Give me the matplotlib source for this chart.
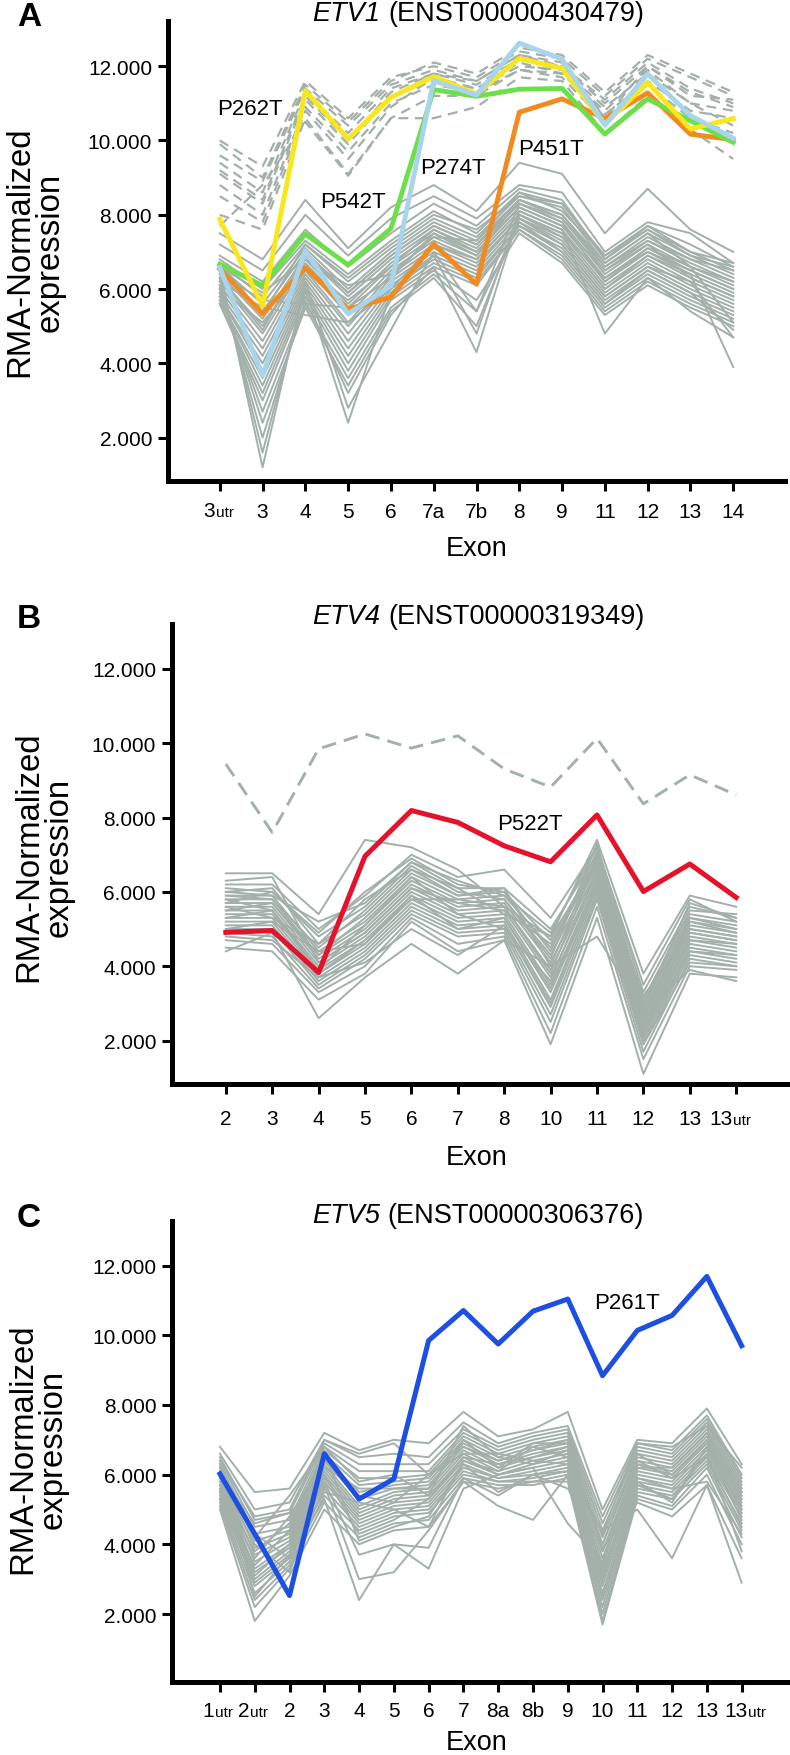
import matplotlib
matplotlib.use('Agg')
import matplotlib.pyplot as plt

plt.rcParams['font.family'] = ['Liberation Sans', 'DejaVu Sans']

W, H = 790, 1756
GRAY = '#a3b0aa'

# ---------------- Panel A : ETV1 ----------------
exons_a = ['3utr', '3', '4', '5', '6', '7a', '7b', '8', '9', '11', '12', '13', '14']
a_gray = [
    [7.5, 6.8, 8.4, 7.1, 8.2, 8.8, 8.1, 9.4, 9.1, 7.5, 8.7, 7.6, 7.0],
    [7.2, 6.5, 8.0, 6.9, 7.9, 8.5, 7.9, 8.8, 8.6, 7.0, 7.8, 7.5, 6.7],
    [6.9, 6.2, 7.6, 6.6, 7.5, 8.3, 7.7, 8.7, 8.4, 6.8, 7.7, 7.2, 6.6],
    [6.8, 6.0, 7.3, 6.4, 7.3, 8.1, 7.5, 8.6, 8.3, 6.9, 7.6, 7.0, 6.5],
    [6.7, 5.8, 7.2, 6.2, 7.1, 7.9, 7.4, 8.5, 8.2, 6.7, 7.5, 6.9, 6.4],
    [6.6, 5.6, 7.1, 6.0, 7.0, 7.8, 7.3, 8.4, 8.0, 6.6, 7.4, 6.8, 6.3],
    [6.5, 5.4, 7.0, 5.9, 6.9, 7.7, 7.2, 8.3, 7.9, 6.5, 7.3, 6.7, 6.2],
    [6.4, 5.2, 6.9, 5.8, 6.8, 7.6, 7.1, 8.3, 7.8, 6.4, 7.2, 6.6, 6.1],
    [6.3, 5.0, 6.8, 5.6, 6.7, 7.5, 7.0, 8.2, 7.7, 6.3, 7.1, 6.5, 6.0],
    [6.2, 4.8, 6.7, 5.5, 6.6, 7.4, 6.9, 8.1, 7.6, 6.2, 7.0, 6.4, 5.9],
    [6.1, 4.6, 6.6, 5.3, 6.5, 7.3, 6.8, 8.0, 7.5, 6.1, 6.9, 6.3, 5.8],
    [6.0, 4.4, 6.5, 5.1, 6.4, 7.2, 6.7, 7.9, 7.4, 6.0, 6.8, 6.2, 5.7],
    [5.9, 4.2, 6.4, 5.0, 6.3, 7.1, 6.6, 7.9, 7.3, 5.9, 6.7, 6.1, 5.6],
    [5.8, 4.0, 6.3, 4.8, 6.2, 7.0, 6.5, 7.8, 7.2, 5.8, 6.6, 6.0, 5.5],
    [5.8, 3.8, 6.2, 4.6, 6.1, 6.9, 6.4, 7.7, 7.1, 5.7, 6.5, 5.9, 5.4],
    [5.7, 3.6, 6.1, 4.4, 6.0, 6.8, 6.3, 7.7, 7.0, 5.6, 6.4, 5.8, 5.3],
    [5.7, 3.4, 6.0, 4.2, 5.9, 6.7, 6.2, 7.6, 6.9, 5.5, 6.3, 5.7, 5.2],
    [5.6, 3.2, 5.9, 4.0, 5.8, 6.6, 6.1, 7.6, 6.8, 5.4, 6.2, 5.6, 5.1],
    [5.6, 3.0, 5.8, 3.8, 5.7, 6.5, 5.7, 7.5, 6.7, 5.3, 6.1, 5.5, 5.0],
    [5.9, 2.7, 5.6, 3.6, 5.5, 6.4, 5.4, 7.8, 7.0, 5.6, 6.5, 5.9, 4.9],
    [6.0, 2.4, 5.5, 3.4, 5.4, 6.3, 5.0, 7.9, 7.2, 5.8, 6.6, 6.2, 4.7],
    [6.1, 2.0, 5.7, 3.2, 5.3, 6.6, 4.3, 8.0, 7.4, 6.0, 6.9, 6.4, 3.9],
    [6.3, 1.6, 6.0, 2.4, 5.9, 6.9, 4.8, 8.1, 7.6, 4.8, 6.3, 5.4, 4.7],
    [6.5, 1.2, 6.2, 2.8, 4.9, 7.0, 5.4, 8.3, 7.8, 6.2, 7.1, 6.6, 5.1],
    [6.2, 5.5, 5.3, 5.1, 6.0, 7.2, 6.8, 8.0, 7.5, 6.3, 7.0, 6.5, 6.0],
    [6.4, 5.7, 5.6, 5.5, 6.3, 7.5, 6.9, 8.4, 7.9, 6.6, 7.3, 6.8, 6.5],
    [6.6, 5.9, 6.8, 6.1, 6.4, 7.4, 7.3, 8.6, 8.1, 6.9, 7.7, 7.0, 6.7],
    [6.0, 5.1, 6.5, 5.7, 6.6, 7.6, 7.0, 8.2, 7.7, 6.5, 7.2, 6.3, 5.8],
    [6.3, 4.9, 6.9, 5.9, 6.9, 7.7, 7.2, 8.4, 8.0, 6.7, 7.5, 6.6, 6.2],
    [6.7, 5.3, 7.2, 6.3, 7.2, 8.0, 7.6, 8.5, 8.3, 6.8, 7.6, 6.9, 6.6],
]
a_dashed = [
    [10.0, 9.3, 11.6, 10.6, 11.7, 12.0, 11.7, 12.4, 12.2, 11.2, 12.2, 11.7, 11.2],
    [9.6, 8.9, 11.4, 10.4, 11.5, 11.9, 11.6, 12.3, 12.0, 11.1, 12.1, 11.4, 11.0],
    [9.4, 8.6, 11.3, 10.2, 11.4, 11.8, 11.5, 12.2, 12.0, 11.0, 12.0, 11.2, 11.1],
    [9.1, 8.3, 11.1, 9.9, 11.2, 11.6, 11.4, 12.0, 11.9, 10.9, 11.8, 11.0, 10.8],
    [8.8, 8.0, 10.9, 9.7, 11.0, 11.5, 11.3, 11.9, 11.8, 10.7, 11.6, 10.8, 10.6],
    [8.5, 7.8, 10.8, 9.5, 10.9, 11.7, 11.4, 12.1, 11.8, 10.8, 11.9, 11.0, 10.4],
    [8.0, 7.6, 10.6, 9.1, 10.6, 11.2, 11.2, 11.9, 11.7, 10.5, 11.5, 10.6, 10.2],
    [7.7, 8.8, 10.5, 9.05, 10.6, 10.6, 10.9, 11.7, 11.6, 10.2, 11.2, 10.3, 9.5],
    [9.9, 9.0, 11.5, 10.5, 11.6, 12.1, 11.8, 12.5, 12.3, 11.3, 12.3, 11.8, 11.3],
    [9.2, 8.4, 11.2, 10.0, 11.3, 11.8, 11.6, 12.3, 12.1, 10.6, 12.0, 11.3, 10.9],
]
a_orange = [6.54, 5.33, 6.58, 5.46, 5.78, 7.21, 6.13, 10.76, 11.12, 10.59, 11.28, 10.17, 10.02]
a_green = [6.67, 6.09, 7.48, 6.65, 7.63, 11.37, 11.19, 11.38, 11.40, 10.17, 11.12, 10.53, 9.95]
a_yellow = [7.88, 5.55, 11.34, 10.04, 11.16, 11.72, 11.25, 12.21, 11.94, 10.44, 11.56, 10.31, 10.59]
a_lightblue = [6.58, 3.67, 7.03, 5.33, 6.09, 11.61, 11.22, 12.62, 12.19, 10.41, 11.79, 10.67, 10.06]
a_labels = ['P262T', 'P542T', 'P274T', 'P451T']
a_label_x = [0.71, 3.12, 5.44, 7.75]
a_label_y = [10.85, 8.35, 9.28, 9.79]

# ---------------- Panel B : ETV4 ----------------
exons_b = ['2', '3', '4', '5', '6', '7', '8', '10', '11', '12', '13', '13utr']
b_gray = [
    [6.5, 6.5, 5.4, 7.4, 7.2, 6.6, 5.6, 4.8, 7.4, 3.8, 5.9, 5.6],
    [6.2, 6.2, 5.0, 5.9, 7.0, 6.4, 6.6, 5.3, 7.2, 3.3, 5.6, 5.3],
    [6.1, 6.0, 4.8, 5.6, 6.8, 6.1, 6.1, 5.0, 7.0, 3.0, 5.4, 5.2],
    [6.0, 6.1, 4.6, 5.4, 6.6, 5.9, 6.0, 4.7, 6.9, 2.9, 5.3, 5.1],
    [5.9, 5.9, 4.4, 5.2, 6.4, 5.8, 5.9, 4.5, 6.8, 2.8, 5.2, 5.0],
    [5.8, 5.8, 4.3, 5.1, 6.3, 5.7, 5.8, 4.3, 6.7, 2.7, 5.1, 4.9],
    [5.7, 5.7, 4.2, 5.0, 6.2, 5.6, 5.7, 4.1, 6.6, 2.6, 5.0, 4.8],
    [5.6, 5.6, 4.1, 4.9, 6.1, 5.5, 5.6, 3.9, 6.5, 2.5, 4.9, 4.7],
    [5.5, 5.5, 4.0, 4.8, 6.0, 5.4, 5.5, 3.7, 6.4, 2.4, 4.8, 4.6],
    [5.4, 5.4, 3.9, 4.7, 5.9, 5.3, 5.4, 3.5, 6.3, 2.3, 4.7, 4.5],
    [5.3, 5.3, 3.8, 4.6, 5.8, 5.2, 5.3, 3.3, 6.2, 2.2, 4.6, 4.4],
    [5.2, 5.2, 3.7, 4.5, 5.7, 5.1, 5.2, 3.1, 6.1, 2.1, 4.5, 4.3],
    [5.1, 5.1, 3.6, 4.4, 5.6, 5.0, 5.1, 2.9, 6.0, 2.0, 4.4, 4.2],
    [5.0, 5.0, 3.5, 4.3, 5.5, 4.9, 5.0, 2.7, 5.9, 1.9, 4.3, 4.1],
    [4.9, 4.8, 3.4, 4.2, 5.4, 4.8, 4.9, 2.5, 5.8, 1.7, 4.2, 4.0],
    [4.7, 4.6, 3.3, 4.0, 5.3, 4.6, 4.8, 2.2, 5.6, 1.5, 4.0, 3.9],
    [4.5, 4.4, 3.1, 3.8, 5.2, 4.4, 4.7, 1.9, 5.3, 1.1, 3.8, 3.7],
    [4.4, 4.9, 2.6, 3.7, 4.6, 3.8, 4.7, 4.0, 4.8, 2.8, 3.9, 3.6],
    [5.7, 6.0, 4.9, 6.0, 6.9, 6.2, 6.0, 4.4, 7.1, 3.1, 5.5, 5.4],
    [5.9, 5.8, 4.5, 5.5, 6.7, 6.0, 5.8, 4.2, 7.3, 2.9, 5.7, 5.3],
    [5.5, 5.7, 4.3, 5.3, 6.5, 5.9, 6.1, 4.0, 7.0, 2.6, 5.3, 5.0],
    [6.3, 6.4, 4.1, 4.9, 6.1, 5.7, 5.5, 4.6, 6.8, 2.4, 5.0, 4.8],
    [5.3, 5.5, 3.9, 5.1, 6.4, 5.4, 5.0, 3.6, 6.6, 2.3, 4.7, 4.6],
    [5.0, 5.2, 4.4, 4.6, 5.9, 5.0, 5.3, 3.4, 6.3, 2.2, 4.4, 4.3],
    [4.8, 4.7, 3.7, 4.1, 5.0, 4.3, 5.1, 3.0, 6.2, 1.9, 4.1, 4.0],
    [6.0, 5.9, 5.2, 5.7, 6.8, 6.3, 5.9, 4.9, 7.2, 3.5, 5.8, 5.2],
    [5.8, 5.5, 3.8, 4.7, 5.8, 5.8, 5.6, 3.8, 6.9, 2.7, 5.2, 4.9],
    [5.6, 5.3, 4.6, 5.8, 6.6, 6.1, 5.4, 4.8, 6.7, 3.2, 4.9, 4.7],
]
b_dashed = [9.44, 7.60, 9.85, 10.25, 9.87, 10.2, 9.31, 8.82, 10.13, 8.37, 9.15, 8.61]
b_red = [4.91, 4.96, 3.83, 6.96, 8.19, 7.87, 7.24, 6.81, 8.07, 6.01, 6.75, 5.85]
b_labels = ['P522T']
b_label_x = [6.56]
b_label_y = [7.85]

# ---------------- Panel C : ETV5 ----------------
exons_c = ['1utr', '2utr', '2', '3', '4', '5', '6', '7', '8a', '8b', '9', '10', '11', '12', '13', '13utr']
c_gray = [
    [6.8, 5.5, 5.6, 7.2, 6.7, 7.0, 6.9, 7.8, 7.1, 7.3, 7.8, 5.0, 7.0, 6.9, 7.9, 6.3],
    [6.6, 5.0, 5.2, 7.0, 6.5, 6.6, 6.5, 7.5, 6.9, 7.2, 7.4, 4.8, 6.9, 6.7, 7.7, 6.0],
    [6.5, 4.7, 4.9, 6.9, 6.3, 6.3, 6.3, 7.3, 6.8, 7.1, 7.3, 4.6, 6.8, 6.6, 7.6, 5.9],
    [6.4, 4.5, 4.7, 6.8, 6.1, 6.1, 6.1, 7.2, 6.7, 7.0, 7.2, 4.4, 6.7, 6.5, 7.5, 5.8],
    [6.3, 4.3, 4.5, 6.7, 5.9, 5.9, 6.0, 7.1, 6.6, 6.9, 7.1, 4.2, 6.6, 6.4, 7.4, 5.7],
    [6.2, 4.1, 4.4, 6.6, 5.7, 5.8, 5.9, 7.0, 6.5, 6.8, 7.0, 4.0, 6.5, 6.3, 7.3, 5.6],
    [6.1, 3.9, 4.3, 6.5, 5.5, 5.7, 5.8, 6.9, 6.4, 6.7, 6.9, 3.8, 6.4, 6.2, 7.2, 5.5],
    [6.0, 3.7, 4.2, 6.4, 5.3, 5.6, 5.7, 6.8, 6.3, 6.6, 6.8, 3.6, 6.3, 6.1, 7.1, 5.4],
    [5.9, 3.5, 4.1, 6.3, 5.1, 5.5, 5.6, 6.7, 6.2, 6.5, 6.7, 3.4, 6.2, 6.0, 7.0, 5.3],
    [5.8, 3.3, 4.0, 6.2, 5.0, 5.4, 5.5, 6.6, 6.1, 6.4, 6.6, 3.2, 6.1, 5.9, 6.9, 5.2],
    [5.7, 3.2, 3.9, 6.1, 4.9, 5.3, 5.4, 6.5, 6.0, 6.3, 6.5, 3.0, 6.0, 5.8, 6.8, 5.1],
    [5.6, 3.0, 3.8, 6.0, 4.8, 5.2, 5.3, 6.4, 6.0, 6.2, 6.4, 2.8, 5.9, 5.7, 6.7, 5.0],
    [5.5, 2.9, 3.7, 5.9, 4.7, 5.1, 5.2, 6.3, 5.9, 6.1, 6.3, 2.6, 5.8, 5.6, 6.6, 4.9],
    [5.4, 2.8, 3.6, 5.8, 4.6, 5.0, 5.1, 6.2, 5.9, 6.0, 6.2, 2.4, 5.7, 5.5, 6.5, 4.8],
    [5.3, 2.6, 3.5, 5.6, 4.5, 4.9, 5.0, 6.1, 5.8, 5.9, 6.1, 2.2, 5.6, 5.4, 6.4, 4.6],
    [5.2, 2.4, 3.4, 5.4, 4.4, 4.8, 4.9, 6.0, 5.8, 5.8, 6.0, 2.0, 5.5, 5.3, 6.3, 4.4],
    [5.1, 2.2, 3.3, 5.2, 4.2, 4.6, 4.7, 5.9, 5.7, 5.7, 5.9, 1.8, 5.4, 5.1, 6.2, 4.2],
    [5.0, 1.8, 3.1, 5.0, 4.0, 4.4, 4.5, 5.8, 5.6, 5.8, 5.8, 1.7, 5.3, 5.0, 6.0, 4.0],
    [6.2, 4.3, 3.6, 5.3, 2.4, 4.0, 3.9, 5.9, 5.4, 6.0, 5.6, 3.9, 5.2, 4.8, 5.7, 3.6],
    [5.9, 4.0, 3.2, 5.7, 3.0, 3.2, 4.4, 5.8, 5.1, 4.7, 6.0, 4.4, 5.0, 3.6, 5.7, 2.9],
    [6.0, 4.6, 4.9, 5.8, 3.7, 4.0, 3.3, 5.6, 6.0, 6.2, 4.6, 3.5, 6.4, 5.9, 6.5, 4.5],
    [5.7, 3.8, 4.6, 6.6, 4.1, 4.5, 4.8, 6.3, 5.5, 6.0, 6.1, 3.3, 5.8, 5.2, 6.8, 4.7],
    [6.4, 4.8, 5.0, 7.0, 6.6, 6.9, 6.0, 6.6, 6.6, 6.4, 6.3, 4.3, 6.9, 6.8, 7.4, 6.2],
    [5.3, 3.4, 4.4, 6.2, 5.6, 5.6, 5.6, 7.0, 6.2, 6.9, 6.9, 2.9, 6.3, 6.0, 7.0, 5.3],
    [6.3, 2.5, 3.7, 5.5, 5.2, 5.0, 4.5, 6.4, 6.1, 6.8, 6.5, 2.5, 5.7, 5.3, 6.6, 3.8],
    [5.6, 3.6, 4.8, 6.4, 5.4, 5.2, 6.0, 6.8, 6.4, 6.7, 7.0, 3.8, 6.2, 6.2, 7.2, 5.5],
    [6.1, 4.2, 5.4, 6.8, 5.8, 6.0, 5.4, 7.4, 6.5, 6.3, 6.7, 4.0, 6.6, 6.0, 6.9, 5.0],
    [5.5, 3.1, 4.0, 6.0, 4.3, 4.7, 5.3, 6.5, 6.3, 6.5, 6.8, 3.1, 5.9, 5.6, 5.8, 4.3],
]
c_blue = [6.02, 4.3, 2.53, 6.60, 5.30, 5.88, 9.85, 10.71, 9.75, 10.69, 11.04, 8.84, 10.14, 10.57, 11.69, 9.70]
c_labels = ['P261T']
c_label_x = [11.7]
c_label_y = [10.95]

ytick_vals = [2, 4, 6, 8, 10, 12]
ytick_labels = ['2.000', '4.000', '6.000', '8.000', '10.000', '12.000']

fig = plt.figure(figsize=(W / 100, H / 100), dpi=100)
renderer = fig.canvas.get_renderer()


def make_axes(left, top, right, bottom, xlim, ylim, cats, xpad, utr_split):
    ax = fig.add_axes([left / W, 1 - bottom / H, (right - left) / W, (bottom - top) / H])
    ax.set_xlim(*xlim)
    ax.set_ylim(*ylim)
    for s in ('top', 'right'):
        ax.spines[s].set_visible(False)
    for s in ('left', 'bottom'):
        ax.spines[s].set_linewidth(3.6)
        ax.spines[s].set_capstyle('projecting')
    ax.set_xticks(range(len(cats)))
    ax.set_xticklabels(['' if c.endswith('utr') else c for c in cats], fontsize=15)
    ax.set_yticks(ytick_vals)
    ax.set_yticklabels(ytick_labels, fontsize=15)
    ax.tick_params(axis='both', direction='out', length=7, width=2.2)
    ax.tick_params(axis='x', pad=xpad)
    ax.tick_params(axis='y', pad=4.5)
    base = -(7 + xpad + 10.74)
    for i, c in enumerate(cats):
        if c.endswith('utr'):
            num = c[:-3]
            sp = utr_split[c] * 0.72
            ax.annotate(num, xy=(i, 0), xycoords=('data', 'axes fraction'),
                        xytext=(sp, base), textcoords='offset points',
                        ha='right', va='baseline', fontsize=15, annotation_clip=False)
            ax.annotate('utr', xy=(i, 0), xycoords=('data', 'axes fraction'),
                        xytext=(sp + 0.5, base), textcoords='offset points',
                        ha='left', va='baseline', fontsize=11, annotation_clip=False)
    return ax


def panel_text(letter, ly, title_it, title_rest, ty, ylab_x, ylab_y, exon_y):
    fig.text(29 / W, 1 - ly / H, letter, fontsize=24, fontweight='bold', ha='center', va='center')
    t1 = fig.text(0, 1 - ty / H, title_it, fontsize=19.5, fontstyle='italic', ha='left', va='center')
    t2 = fig.text(0, 1 - ty / H, title_rest, fontsize=19.5, ha='left', va='center')
    w1 = t1.get_window_extent(renderer).width
    w2 = t2.get_window_extent(renderer).width
    gap = 8
    x0 = 478 - (w1 + gap + w2) / 2
    t1.set_x(x0 / W)
    t2.set_x((x0 + w1 + gap) / W)
    fig.text(ylab_x / W, 1 - ylab_y / H, 'RMA-Normalized\nexpression', rotation=90,
             fontsize=23.7, ha='center', va='center', multialignment='center', linespacing=0.95)
    fig.text(477 / W, 1 - exon_y / H, 'Exon', fontsize=19.5, ha='center', va='center')


GLW = 1.4

# Panel A
axA = make_axes(168, 21.5, 785, 481.7, (-1.21, 13.21), (0.84, 13.23), exons_a, 8, {'3utr': -4.5})
xa = list(range(len(exons_a)))
for row in a_gray:
    axA.plot(xa, row, color=GRAY, lw=GLW, zorder=1)
for row in a_dashed:
    axA.plot(xa, row, color=GRAY, lw=1.6, ls=(0, (4.5, 3)), zorder=2)
axA.plot(xa, a_orange, color='#f28b1d', lw=3.5, zorder=3)
axA.plot(xa, a_green, color='#6ddf4b', lw=3.5, zorder=3)
axA.plot(xa, a_yellow, color='#f8e71a', lw=3.5, zorder=4)
axA.plot(xa, a_lightblue, color='#a8d5ec', lw=3.5, zorder=5)
for t, x, y in zip(a_labels, a_label_x, a_label_y):
    axA.text(x, y, t, fontsize=16, ha='center', va='center', zorder=6)
panel_text('A', 17.5, 'ETV1', '(ENST00000430479)', 14.4, 35, 252, 549)

# Panel B
axB = make_axes(172, 624.6, 790, 1085, (-1.16, 12.16), (0.83, 13.22), exons_b, 11, {'13utr': -4})
xb = list(range(len(exons_b)))
for row in b_gray:
    axB.plot(xb, row, color=GRAY, lw=GLW, zorder=1)
axB.plot(xb, b_dashed, color=GRAY, lw=2.1, ls=(0, (5, 2.8)), zorder=2)
axB.plot(xb, b_red, color='#e4122a', lw=3.6, zorder=4)
for t, x, y in zip(b_labels, b_label_x, b_label_y):
    axB.text(x, y, t, fontsize=16, ha='center', va='center', zorder=6)
panel_text('B', 619, 'ETV4', '(ENST00000319349)', 616.5, 44, 857, 1158)

# Panel C
axC = make_axes(172.3, 1222, 790, 1683.3, (-1.37, 16.39), (0.04, 13.28), exons_c, 6.8,
                {'1utr': -6, '2utr': -5.5, '13utr': 6})
xc = list(range(len(exons_c)))
for row in c_gray:
    axC.plot(xc, row, color=GRAY, lw=GLW, zorder=1)
axC.plot(xc, c_blue, color='#1c4fe2', lw=3.6, zorder=4)
for t, x, y in zip(c_labels, c_label_x, c_label_y):
    axC.text(x, y, t, fontsize=16, ha='center', va='center', zorder=6)
panel_text('C', 1218.5, 'ETV5', '(ENST00000306376)', 1216, 38, 1449, 1743)

fig.savefig('out.png', dpi=100)
